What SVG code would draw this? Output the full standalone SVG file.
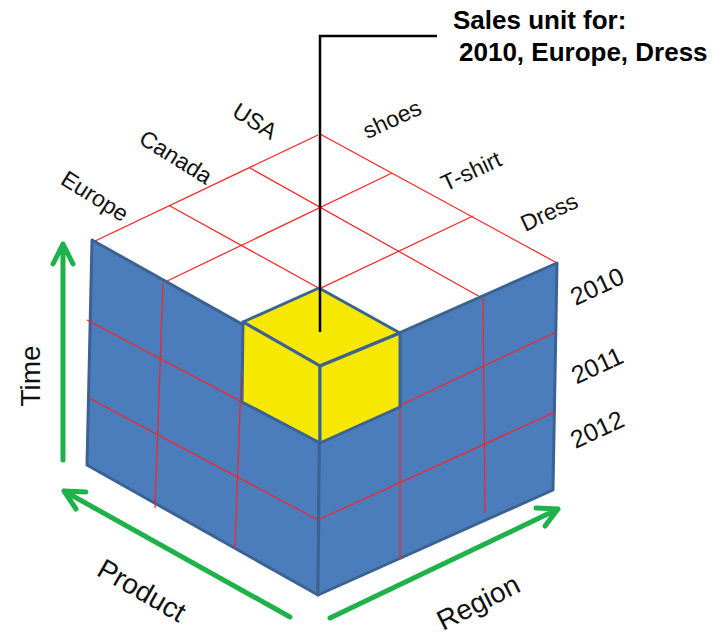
<svg xmlns="http://www.w3.org/2000/svg" width="726" height="636" viewBox="0 0 726 636">
<style>
.face{fill:#4b7dbd;stroke:#3b6292;stroke-width:3;stroke-linejoin:round}
.top{fill:#ffffff;stroke:none}
.grid{stroke:#ff2020;stroke-width:1.2;fill:none}
.ygrid{fill:#f6e800;stroke:#3b6292;stroke-width:3;stroke-linejoin:round}
.lbl{font-family:"Liberation Sans",Arial,sans-serif;font-size:23px;fill:#111}
.yr{font-family:"Liberation Sans",Arial,sans-serif;font-size:25px;fill:#111}
.axis{font-family:"Liberation Sans",Arial,sans-serif;font-size:28px;fill:#111}
.title{font-family:"Liberation Sans",Arial,sans-serif;font-size:26px;font-weight:bold;fill:#000}
.garrow{stroke:#1fb24a;stroke-width:5;fill:none;stroke-linecap:round;stroke-linejoin:round}
.leader{stroke:#000;stroke-width:2.5;fill:none}
</style>
<rect width="726" height="636" fill="#fff"/>
<g id="cube">
  <g id="top-face">
    <polygon class="top" points="93,242 318,135 557,263 320,368"/>
    <path class="grid" d="M93,242 L318,135 M320,134 L557,263 M392,173 L163,283 M473,216 L243,325 M250,168 L482,298 M170,206 L400,333"/>
  </g>
  <g id="left-face">
    <polygon class="face" points="92,240 320,368 318,595 87,465"/>
    <path class="grid" d="M87,320 L320,443 M89,398 L318,520 M163,283 L155,508 M243,325 L235,548"/>
  </g>
  <g id="right-face">
    <polygon class="face" points="320,368 557,263 553,490 318,595"/>
    <path class="grid" d="M320,443 L556,332 M318,520 L555,412 M400,333 L400,560 M483,298 L485,513"/>
  </g>
  <g id="selected-cell">
    <polygon class="ygrid" points="319,288 400,333 320,366 243,322"/>
    <polygon class="ygrid" points="243,322 320,366 320,443 242,402"/>
    <polygon class="ygrid" points="320,366 400,333 400,407 320,443"/>
  </g>
</g>
<g id="region-labels">
  <text class="lbl" text-anchor="middle" transform="translate(95,196) rotate(32)" y="8">Europe</text>
  <text class="lbl" text-anchor="middle" transform="translate(176,157) rotate(32)" y="8">Canada</text>
  <text class="lbl" text-anchor="middle" transform="translate(255,121) rotate(32)" y="8">USA</text>
</g>
<g id="product-labels">
  <text class="lbl" text-anchor="middle" transform="translate(392,119) rotate(-25)" y="8">shoes</text>
  <text class="lbl" text-anchor="middle" transform="translate(471,171) rotate(-25)" y="8">T-shirt</text>
  <text class="lbl" text-anchor="middle" transform="translate(549,212) rotate(-25)" y="8">Dress</text>
</g>
<g id="time-labels">
  <text class="yr" text-anchor="middle" transform="translate(597,286) rotate(-25)" y="9">2010</text>
  <text class="yr" text-anchor="middle" transform="translate(597,365) rotate(-25)" y="9">2011</text>
  <text class="yr" text-anchor="middle" transform="translate(597,429) rotate(-25)" y="9">2012</text>
</g>
<g id="callout">
  <text class="title" x="453" y="29">Sales unit for:</text>
  <text class="title" x="459" y="61">2010, Europe, Dress</text>
</g>
<g id="axis-labels">
  <text class="axis" text-anchor="middle" transform="translate(30,376) rotate(-90)" y="10">Time</text>
  <text class="axis" text-anchor="middle" transform="translate(142,590) rotate(30)" y="10">Product</text>
  <text class="axis" text-anchor="middle" transform="translate(478,602) rotate(-27)" y="10">Region</text>
</g>
<g id="connectors">
  <path class="leader" d="M320,332 L320,36 L437,36"/>
  <path class="garrow" d="M63,460 L63,245 M53,264 L63,244 L73,264"/>
  <path class="garrow" d="M290,617 L64,491 M86,492 L64,491 L76,509"/>
  <path class="garrow" d="M330,618 L558,509 M536,508 L558,509 L545,526"/>
</g>
</svg>
